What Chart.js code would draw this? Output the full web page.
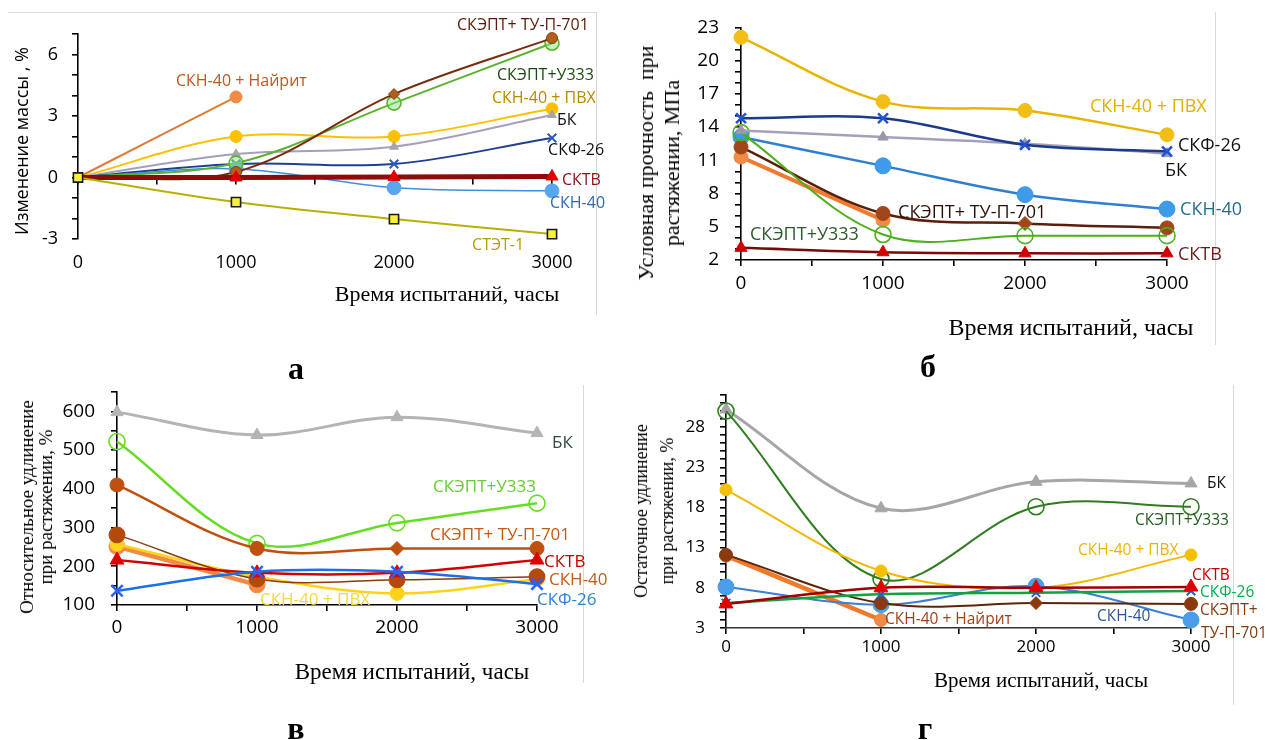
<!DOCTYPE html>
<html lang="ru">
<head>
<meta charset="utf-8">
<title>Старение эластомеров</title>
<script src="https://cdn.jsdelivr.net/npm/chart.js@4.4.1/dist/chart.umd.min.js"></script>
<style>
  html, body { margin: 0; padding: 0; background: #fff; }
  #page { position: relative; width: 1269px; height: 740px; overflow: hidden; }
  #page canvas { position: absolute; left: 0; top: 0; }
  .txt { position: absolute; white-space: nowrap; color: #000; line-height: 1;
         font-family: "Liberation Serif", serif; transform: translate(-50%, -50%); }
  .rot { transform: translate(-50%, -50%) rotate(-90deg); text-align: center; }
  .letter { font-weight: bold; font-size: 32px; }
  .frame { position: absolute; background: #d9d9d9; }
</style>
</head>
<body>
<div id="page">
  <div class="frame" style="left:8px;top:12px;width:588px;height:1px"></div>
  <div class="frame" style="left:596px;top:12px;width:1px;height:303px"></div>
  <div class="frame" style="left:1215px;top:12px;width:1px;height:333px"></div>
  <div class="frame" style="left:583px;top:385px;width:1px;height:298px"></div>
  <div class="frame" style="left:1233px;top:385px;width:1px;height:320px"></div>

  <canvas id="chart-mass" width="1269" height="740"></canvas>
  <canvas id="chart-strength" width="1269" height="740"></canvas>
  <canvas id="chart-elong" width="1269" height="740"></canvas>
  <canvas id="chart-resid" width="1269" height="740"></canvas>

  <!-- axis titles -->
  <div class="txt rot" style="left:21px;top:141px;font-family:'Open Sans',sans-serif;font-size:18px">Изменение массы , %</div>
  <div class="txt" style="left:447px;top:294px;font-size:22px">Время испытаний, часы</div>

  <div class="txt rot" style="left:659px;top:163px;font-size:22px;line-height:26px">Условная прочность&nbsp; при<br>растяжении, МПа</div>
  <div class="txt" style="left:1071px;top:327px;font-size:24px">Время испытаний, часы</div>

  <div class="txt rot" style="left:36px;top:507px;font-size:19px;line-height:19px">Относительное удлинение<br>при растяжении, %</div>
  <div class="txt" style="left:412px;top:671px;font-size:23px">Время испытаний, часы</div>

  <div class="txt rot" style="left:654px;top:511px;font-size:18px;line-height:26px">Остаточное удлинение<br>при растяжении, %</div>
  <div class="txt" style="left:1041px;top:680px;font-size:21px">Время испытаний, часы</div>

  <!-- panel letters -->
  <div class="txt letter" style="left:296px;top:368px">а</div>
  <div class="txt letter" style="left:928px;top:366px">б</div>
  <div class="txt letter" style="left:296px;top:728px">в</div>
  <div class="txt letter" style="left:925px;top:728px">г</div>
</div>

<script>
// ---- shared x axis: test time, hours ----
const hours = [0, 1000, 2000, 3000];
const hourLabels = ["0", "1000", "2000", "3000"];

// ---- а: change of mass, % ----
const massTicks = [-3, 0, 3, 6];
const massSTET1 = [0, -1.2, -2.03, -2.76];
const massSKTV = [0, 0, 0.02, 0.05];
const massSKN40 = [0, 0.42, -0.5, -0.65];
const massSKF26 = [0, 0.66, 0.66, 1.93];
const massBK = [0, 1.15, 1.5, 3.05];
const massSKEPTU333 = [0, 0.7, 3.63, 6.55];
const massSKEPT701 = [0, 0.27, 4.07, 6.8];
const massSKN40PVC = [0, 2.0, 2.0, 3.35];
const massSKN40Nairit = [0, 3.93];

// ---- б: tensile strength, MPa ----
const strengthTicks = [2, 5, 8, 11, 14, 17, 20, 23];
const strengthSKN40PVC = [22.1, 16.3, 15.5, 13.3];
const strengthSKF26 = [14.8, 14.8, 12.4, 11.8];
const strengthBK = [13.7, 13.1, 12.5, 11.6];
const strengthSKN40 = [13.1, 10.5, 7.9, 6.6];
const strengthSKEPT701 = [12.2, 6.2, 5.3, 4.9];
const strengthSKN40Nairit = [11.3, 5.6];
const strengthSKEPTU333 = [13.5, 4.3, 4.2, 4.2];
const strengthSKTV = [3.1, 2.7, 2.6, 2.6];

// ---- в: relative elongation at break, % ----
const elongTicks = [100, 200, 300, 400, 500, 600];
const elongBK = [598, 539, 585, 544];
const elongSKEPTU333 = [522, 259, 312, 363];
const elongSKEPT701 = [410, 246, 246, 246];
const elongSKTV = [216, 183, 183, 216];
const elongSKN40 = [281, 167, 165, 173];
const elongSKN40Nairit = [251, 152];
const elongSKN40PVC = [257, 173, 130, 166];
const elongSKF26 = [137, 186, 186, 154];

// ---- г: residual elongation, % ----
const residTicks = [3, 8, 13, 18, 23, 28];
const residBK = [30.2, 17.9, 21.2, 21.0];
const residSKEPTU333 = [30.0, 9.1, 18.1, 18.1];
const residSKN40PVC = [20.2, 10.1, 8.0, 12.1];
const residSKEPT701 = [12.1, 6.1, 6.1, 6.0];
const residSKN40Nairit = [12.0, 4.0];
const residSKN40 = [8.1, 5.9, 8.2, 4.0];
const residSKTV = [6.0, 8.0, 8.0, 8.1];
const residSKF26 = [6.1, 7.2, 7.4, 7.6];

// draws the series names next to the curves, anchored in data units
const seriesLabels = {
  id: "seriesLabels",
  afterDatasetsDraw(chart, args, opts) {
    const { ctx } = chart;
    const xs = chart.scales.x, ys = chart.scales.y;
    ctx.save();
    ctx.font = opts.font;
    ctx.textAlign = "left";
    ctx.textBaseline = "middle";
    (opts.items || []).forEach(it => {
      ctx.fillStyle = it.color;
      ctx.fillText(it.text, xs.getPixelForValue(it.x), ys.getPixelForValue(it.y));
    });
    ctx.restore();
  }
};
Chart.register(seriesLabels);

// one smoothed series
function line(label, values, color, extra) {
  return Object.assign({
    label: label,
    data: values.map((v, i) => ({ x: hours[i], y: v })),
    borderColor: color,
    backgroundColor: color,
    pointBackgroundColor: color,
    pointBorderColor: color,
    borderWidth: 2,
    pointRadius: 5,
    pointBorderWidth: 1,
    tension: 0.35,
    clip: false
  }, extra || {});
}

const openCircle = (color) => ({ pointStyle: "circle", pointRadius: 7, pointBorderWidth: 1.6,
  pointBackgroundColor: "rgba(255,255,255,0)", pointBorderColor: color });

function hourTick(v) {
  const i = hours.indexOf(v);
  return i >= 0 ? hourLabels[i] : "";
}

// chart area in page pixels: [left, top, right, bottom]
function makeChart(id, area, y, datasets, cfg) {
  const [L, T, R, B] = area;
  const yW = 60, xH = 40;
  const black = "#000";
  const scales = {
    y: {
      type: "linear", min: y.min, max: y.max,
      afterFit: s => { s.width = yW; },
      border: { color: black, width: 1.6 },
      grid: { drawOnChartArea: false, tickLength: 6, color: black, lineWidth: 1.6 },
      ticks: {
        stepSize: y.step, autoSkip: false, padding: cfg.yPad, color: black,
        font: { family: "Open Sans", size: cfg.tickSize },
        callback: v => (y.ticks.includes(v) ? String(v) : "")
      }
    }
  };
  if (cfg.zeroAxis) {
    // labels at the bottom, axis line itself at y = 0
    scales.x = {
      type: "linear", min: 0, max: 3000,
      afterFit: s => { s.height = xH; },
      border: { display: false },
      grid: { display: false, drawTicks: false },
      ticks: { stepSize: 1000, autoSkip: false, maxRotation: 0, padding: cfg.xPad, color: black,
               font: { family: "Open Sans", size: cfg.tickSize }, callback: hourTick }
    };
    scales.x2 = {
      type: "linear", axis: "x", position: { y: 0 }, min: 0, max: 3000,
      border: { color: black, width: 1.6 },
      grid: { drawOnChartArea: false, tickLength: 6, color: black, lineWidth: 1.6 },
      ticks: { stepSize: 500, autoSkip: false, display: false }
    };
  } else {
    scales.x = {
      type: "linear", min: 0, max: 3000,
      afterFit: s => { s.height = xH; },
      border: { color: cfg.xAxisColor || black, width: 1.6 },
      grid: { drawOnChartArea: false, tickLength: 6, color: black, lineWidth: 1.6 },
      ticks: { stepSize: 500, autoSkip: false, maxRotation: 0, padding: cfg.xPad, color: black,
               font: { family: "Open Sans", size: cfg.tickSize }, callback: hourTick }
    };
  }

  return new Chart(document.getElementById(id), {
    type: "line",
    data: { datasets: datasets },
    options: {
      responsive: false,
      animation: false,
      events: [],
      layout: { padding: { left: L - yW, top: T, right: 1269 - R, bottom: 740 - B - xH } },
      scales: scales,
      plugins: {
        legend: { display: false },
        tooltip: { enabled: false },
        seriesLabels: { font: cfg.labelFont, items: cfg.labels }
      }
    }
  });
}

const hideFirst = r => [0, r, r, r];

// ---------- а ----------
makeChart("chart-mass", [78, 34, 552, 239],
  { min: -3, max: 7, step: 1, ticks: massTicks },
  [
    line("СТЭТ-1", massSTET1, "#b8b000", { pointStyle: "rect", pointRadius: 6.5,
      pointBackgroundColor: "#f6f23a", pointBorderColor: "#1a1a1a", pointBorderWidth: 1.6 }),
    line("СКТВ", massSKTV, "#8e0b0b", { borderWidth: 5, pointStyle: "triangle",
      pointRadius: hideFirst(7), pointBackgroundColor: "#e00000", pointBorderColor: "#e00000" }),
    line("СКЭПТ+ ТУ-П-701", massSKEPT701, "#7a2a0c", { pointRadius: hideFirst(5.5),
      pointStyle: ["circle", "circle", "rectRot", "circle"],
      pointBackgroundColor: "#b0601e", pointBorderColor: "#8a4010" }),
    line("СКЭПТ+У333", massSKEPTU333, "#5db130", Object.assign(openCircle("#5db130"),
      { pointRadius: hideFirst(7), pointBackgroundColor: "rgba(140,230,140,0.5)" })),
    line("СКН-40", massSKN40, "#3f8fdc", { borderWidth: 1.5, pointRadius: hideFirst(7),
      pointBackgroundColor: "#5aa6ee", pointBorderColor: "#5aa6ee" }),
    line("СКФ-26", massSKF26, "#1f3f8f", { pointStyle: "crossRot", pointRadius: hideFirst(6),
      pointBorderColor: "#2a5cc0", pointBorderWidth: 2 }),
    line("БК", massBK, "#a4a0bc", { pointStyle: "triangle", pointRadius: hideFirst(5),
      pointBackgroundColor: "#a6a6a6", pointBorderColor: "#a6a6a6" }),
    line("СКН-40 + ПВХ", massSKN40PVC, "#ffc000", { pointRadius: hideFirst(6) }),
    line("СКН-40 + Найрит", massSKN40Nairit, "#de7a33", { pointRadius: [0, 6],
      pointBackgroundColor: "#f08a44", pointBorderColor: "#f08a44" })
  ],
  {
    zeroAxis: true, tickSize: 18, yPad: 14, xPad: 13,
    labelFont: "16px 'Open Sans', sans-serif",
    labels: [
      { text: "СКН-40 + Найрит", x: 620, y: 4.68, color: "#c0561b" },
      { text: "СКЭПТ+ ТУ-П-701", x: 2399, y: 7.41, color: "#5b1a06" },
      { text: "СКЭПТ+У333", x: 2652, y: 5.0, color: "#1d4a12" },
      { text: "СКН-40 + ПВХ", x: 2620, y: 3.85, color: "#b88a00" },
      { text: "БК", x: 3032, y: 2.76, color: "#111" },
      { text: "СКФ-26", x: 2975, y: 1.34, color: "#111" },
      { text: "СКТВ", x: 3063, y: -0.12, color: "#8b1010" },
      { text: "СКН-40", x: 2987, y: -1.27, color: "#2e6bb0" },
      { text: "СТЭТ-1", x: 2494, y: -3.29, color: "#b89a00" }
    ]
  });

// ---------- б ----------
makeChart("chart-strength", [741, 27, 1167, 260],
  { min: 2, max: 23, step: 1, ticks: strengthTicks },
  [
    line("СКТВ", strengthSKTV, "#7a0a0a", { borderWidth: 2.5, pointStyle: "triangle", pointRadius: 7,
      pointBackgroundColor: "#d00000", pointBorderColor: "#d00000" }),
    line("СКФ-26", strengthSKF26, "#1a3a8a", { borderWidth: 2.5, pointStyle: "crossRot", pointRadius: 7,
      pointBorderColor: "#2452d6", pointBorderWidth: 2.5 }),
    line("БК", strengthBK, "#a4a0bc", { borderWidth: 2.5, pointStyle: "triangle", pointRadius: 6,
      pointBackgroundColor: "#9a9aa8", pointBorderColor: "#9a9aa8" }),
    line("СКЭПТ+У333", strengthSKEPTU333, "#4caf1a", Object.assign(openCircle("#4caf1a"),
      { pointRadius: 8 })),
    line("СКЭПТ+ ТУ-П-701", strengthSKEPT701, "#5a1e0a", { borderWidth: 2.5, pointRadius: 7,
      pointStyle: ["circle", "circle", "rectRot", "circle"],
      pointBackgroundColor: "#a0461a", pointBorderColor: "#a0461a" }),
    line("СКН-40 + Найрит", strengthSKN40Nairit, "#ef7a30", { borderWidth: 4, pointRadius: 7,
      pointBackgroundColor: "#f08a44", pointBorderColor: "#f08a44" }),
    line("СКН-40", strengthSKN40, "#2f7fd0", { borderWidth: 2.5, pointRadius: 8,
      pointBackgroundColor: "#3d9be9", pointBorderColor: "#3d9be9" }),
    line("СКН-40 + ПВХ", strengthSKN40PVC, "#e8b400", { borderWidth: 2.5, pointRadius: 7,
      pointBackgroundColor: "#f2be16", pointBorderColor: "#f2be16" })
  ],
  {
    tickSize: 19, yPad: 16, xPad: 6,
    labelFont: "18px 'Open Sans', sans-serif",
    labels: [
      { text: "СКН-40 + ПВХ", x: 2458, y: 15.79, color: "#e0b000" },
      { text: "СКФ-26", x: 3077, y: 12.27, color: "#111" },
      { text: "БК", x: 2986, y: 10.02, color: "#111" },
      { text: "СКН-40", x: 3092, y: 6.51, color: "#1f6e8c" },
      { text: "СКЭПТ+ ТУ-П-701", x: 1106, y: 6.24, color: "#2a1208" },
      { text: "СКЭПТ+У333", x: 63, y: 4.25, color: "#2d5a2d" },
      { text: "СКТВ", x: 3077, y: 2.45, color: "#6b1a1a" }
    ]
  });

// ---------- в ----------
makeChart("chart-elong", [117, 392, 537, 605],
  { min: 100, max: 650, step: 50, ticks: elongTicks },
  [
    line("СКФ-26", elongSKF26, "#1e6ee8", { borderWidth: 2.5, pointStyle: "crossRot", pointRadius: 8,
      pointBorderColor: "#2962ff", pointBorderWidth: 2.5 }),
    line("СКТВ", elongSKTV, "#d00000", { borderWidth: 2.5, pointStyle: "triangle", pointRadius: 8,
      pointBackgroundColor: "#e00000", pointBorderColor: "#e00000" }),
    line("СКН-40", elongSKN40, "#8b3a0a", { borderWidth: 1.5, pointRadius: 8,
      pointBackgroundColor: "#b34a0a", pointBorderColor: "#b34a0a" }),
    line("СКН-40 + ПВХ", elongSKN40PVC, "#ffd21a", { borderWidth: 2.5, pointRadius: 7,
      pointBackgroundColor: "#ffd21a", pointBorderColor: "#ffd21a" }),
    line("СКН-40 + Найрит", elongSKN40Nairit, "#f08a44", { borderWidth: 4.5, pointRadius: 8,
      pointBackgroundColor: "#f08a44", pointBorderColor: "#f08a44" }),
    line("СКЭПТ+ ТУ-П-701", elongSKEPT701, "#c0500f", { borderWidth: 2.5, pointRadius: 7,
      pointStyle: ["circle", "circle", "rectRot", "circle"],
      pointBackgroundColor: "#c0500f", pointBorderColor: "#c0500f" }),
    line("СКЭПТ+У333", elongSKEPTU333, "#66dd22", Object.assign(openCircle("#66dd22"),
      { borderWidth: 2.5, pointRadius: 8 })),
    line("БК", elongBK, "#b4b4b4", { borderWidth: 3, pointStyle: "triangle", pointRadius: 7,
      pointBackgroundColor: "#b4b4b4", pointBorderColor: "#b4b4b4" })
  ],
  {
    tickSize: 19, yPad: 16, xPad: 5,
    labelFont: "17px 'Open Sans', sans-serif",
    labels: [
      { text: "БК", x: 3107, y: 518, color: "#34474a" },
      { text: "СКЭПТ+У333", x: 2257, y: 405, color: "#66cc33" },
      { text: "СКЭПТ+ ТУ-П-701", x: 2236, y: 281, color: "#c55a11" },
      { text: "СКТВ", x: 3050, y: 211, color: "#c00000" },
      { text: "СКН-40", x: 3086, y: 165, color: "#c55a11" },
      { text: "СКФ-26", x: 3000, y: 113, color: "#2e80d0" },
      { text: "СКН-40 + ПВХ", x: 1021, y: 113, color: "#f5d742" }
    ]
  });

// ---------- г ----------
makeChart("chart-resid", [726, 395, 1191, 628],
  { min: 3, max: 32, step: 1, ticks: residTicks },
  [
    line("СКТВ", residSKTV, "#a00000", { borderWidth: 2.5, pointStyle: "triangle", pointRadius: 8,
      pointBackgroundColor: "#e00000", pointBorderColor: "#e00000" }),
    line("СКФ-26", residSKF26, "#12a040", { borderWidth: 2.5, pointStyle: "crossRot", pointRadius: 6,
      pointBorderColor: "#2a5cc0", pointBorderWidth: 2 }),
    line("СКЭПТ+ ТУ-П-701", residSKEPT701, "#5c2408", { borderWidth: 2, pointRadius: 6.5,
      pointStyle: ["circle", "circle", "rectRot", "circle"],
      pointBackgroundColor: "#8b3a0f", pointBorderColor: "#8b3a0f" }),
    line("СКН-40", residSKN40, "#3a7fd5", { borderWidth: 2, pointRadius: 8,
      pointBackgroundColor: "#4a9de8", pointBorderColor: "#4a9de8" }),
    line("СКН-40 + Найрит", residSKN40Nairit, "#f07a2a", { borderWidth: 4.5, pointRadius: 6.5,
      pointBackgroundColor: "#f08a44", pointBorderColor: "#f08a44" }),
    line("СКН-40 + ПВХ", residSKN40PVC, "#f5b800", { borderWidth: 2, pointRadius: 6,
      pointBackgroundColor: "#f5c000", pointBorderColor: "#f5c000" }),
    line("СКЭПТ+У333", residSKEPTU333, "#2e7d1e", Object.assign(openCircle("#2e7d1e"),
      { pointRadius: 8 })),
    line("БК", residBK, "#a6a6a6", { borderWidth: 3, pointStyle: "triangle", pointRadius: 7,
      pointBackgroundColor: "#a6a6a6", pointBorderColor: "#a6a6a6" })
  ],
  {
    tickSize: 17, yPad: 15, xPad: 3, xAxisColor: "#333",
    labelFont: "15.5px 'Open Sans', sans-serif",
    labels: [
      { text: "БК", x: 3103, y: 20.92, color: "#111" },
      { text: "СКЭПТ+У333", x: 2639, y: 16.32, color: "#1e5c1e" },
      { text: "СКН-40 + ПВХ", x: 2271, y: 12.58, color: "#f0b400" },
      { text: "СКТВ", x: 3006, y: 9.47, color: "#c00000" },
      { text: "СКФ-26", x: 3058, y: 7.35, color: "#00b050" },
      { text: "СКЭПТ+", x: 3058, y: 5.11, color: "#843c0c" },
      { text: "ТУ-П-701", x: 3065, y: 2.25, color: "#843c0c" },
      { text: "СКН-40", x: 2394, y: 4.37, color: "#2f5597" },
      { text: "СКН-40 + Найрит", x: 1026, y: 4.0, color: "#a0401a" }
    ]
  });
</script>
</body>
</html>
